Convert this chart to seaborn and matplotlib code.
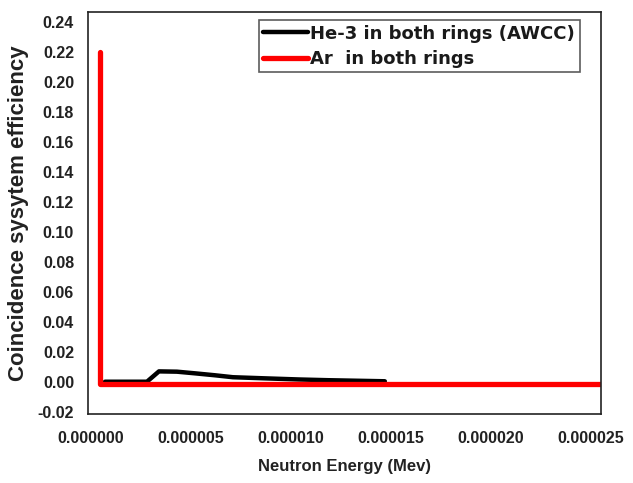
import matplotlib
matplotlib.use("Agg")
import matplotlib.pyplot as plt
import seaborn as sns
import pandas as pd

# Data (energies in MeV)
he3_energy = [0.7e-6, 2.8e-6, 3.4e-6, 4.3e-6, 5.2e-6, 6.2e-6, 7.1e-6, 8.6e-6, 10.4e-6, 11.9e-6, 14.7e-6]
he3_eff = [0.0, 0.0, 0.0069, 0.0067, 0.0056, 0.0043, 0.0030, 0.0023, 0.0015, 0.0010, 0.0003]

ar_energy = [0.45e-6, 0.45e-6, 26e-6]
ar_eff = [0.220, -0.0012, -0.0012]

labels = ["He-3 in both rings (AWCC)", "Ar  in both rings"]
xticks = [0, 5e-6, 10e-6, 15e-6, 20e-6, 25e-6]
xticklabels = ["0.000000", "0.000005", "0.000010", "0.000015", "0.000020", "0.000025"]
yticks = [-0.02, 0.0, 0.02, 0.04, 0.06, 0.08, 0.10, 0.12, 0.14, 0.16, 0.18, 0.20, 0.22, 0.24]

sns.set_style("white")
plt.rcParams['font.family'] = ['Liberation Sans', 'DejaVu Sans']

fig = plt.figure(figsize=(6.33, 4.83), dpi=100)
ax = fig.add_axes([0.139, 0.143, 0.810, 0.832])

df_he = pd.DataFrame({"x": he3_energy, "y": he3_eff})
df_ar = pd.DataFrame({"x": ar_energy, "y": ar_eff})

sns.lineplot(data=df_he, x="x", y="y", ax=ax, color="black", linewidth=3.2,
             sort=False, estimator=None, label=labels[0])
sns.lineplot(data=df_ar, x="x", y="y", ax=ax, color="#ff0000", linewidth=3.8,
             sort=False, estimator=None, label=labels[1])

ax.set_xlim(-0.15e-6, 25.5e-6)
ax.set_ylim(-0.0215, 0.2467)
ax.set_xticks(xticks)
ax.set_xticklabels(xticklabels, fontsize=11.5, fontweight="bold", color="#222222")
ax.set_yticks(yticks)
ax.set_yticklabels([f"{v:.2f}" for v in yticks], fontsize=11.5, fontweight="bold", color="#222222")
ax.tick_params(axis="x", length=0, pad=12)
ax.tick_params(axis="y", length=0, pad=10)

ax.set_xlabel("Neutron Energy (Mev)", fontsize=12, fontweight="bold", color="#222222", labelpad=10)
ax.set_ylabel("Coincidence sysytem efficiency", fontsize=16, fontweight="bold", color="#222222", labelpad=6)

for s in ax.spines.values():
    s.set_color("#222222")
    s.set_linewidth(1.2)

leg = ax.legend(loc="upper right", bbox_to_anchor=(0.959, 0.980), frameon=True, fancybox=False,
                edgecolor="#333333",
                prop={"family": ["DejaVu Sans"], "weight": "bold", "size": 13},
                handlelength=2.5, handletextpad=0.12, borderpad=0.25, labelspacing=0.4,
                borderaxespad=0)
leg.get_frame().set_linewidth(1.2)
for t in leg.get_texts():
    t.set_color("#1a1a1a")

fig.savefig("out.png", dpi=100)
